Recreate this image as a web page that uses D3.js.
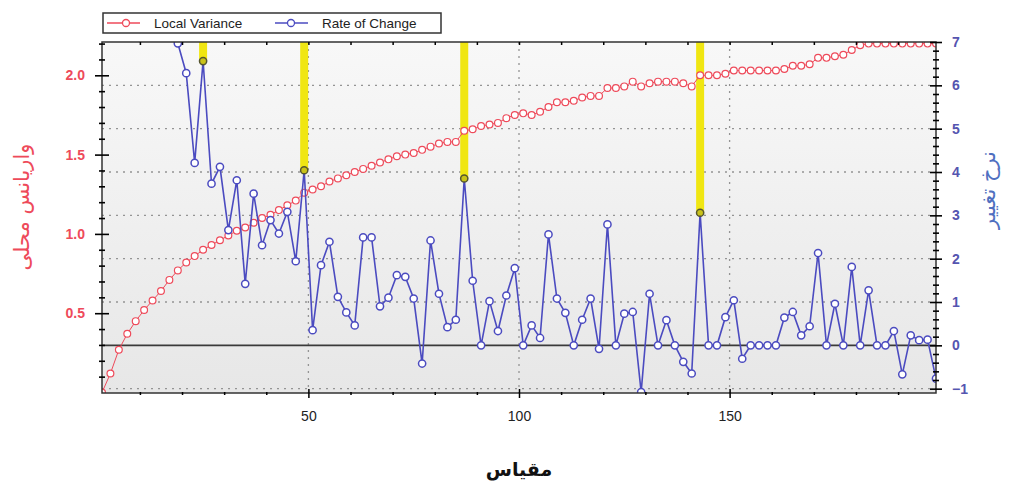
<!DOCTYPE html>
<html>
<head>
<meta charset="utf-8">
<script src="https://cdn.jsdelivr.net/npm/d3@7"></script>
<style>
  body { margin: 0; background: #fff; }
  svg { display: block; }
</style>
</head>
<body>
<div id="chart"></div>
<script>
// scale values (x), every 2 units
const scales = [1,3,5,7,9,11,13,15,17,19,21,23,25,27,29,31,33,35,37,39,
  41,43,45,47,49,51,53,55,57,59,61,63,65,67,69,71,73,75,77,79,
  81,83,85,87,89,91,93,95,97,99,101,103,105,107,109,111,113,115,117,119,
  121,123,125,127,129,131,133,135,137,139,141,143,145,147,149,151,153,155,157,159,
  161,163,165,167,169,171,173,175,177,179,181,183,185,187,189,191,193,195,197,199];

// Local Variance (left axis)
const localVariance = [0.00,0.12,0.27,0.37,0.45,0.52,0.58,0.64,0.71,0.77,
  0.82,0.86,0.90,0.93,0.96,0.99,1.02,1.04,1.07,1.10,
  1.12,1.15,1.18,1.21,1.26,1.28,1.30,1.33,1.35,1.37,
  1.39,1.41,1.43,1.45,1.47,1.49,1.50,1.51,1.53,1.55,
  1.57,1.58,1.58,1.65,1.66,1.68,1.69,1.70,1.73,1.75,
  1.76,1.75,1.77,1.80,1.83,1.83,1.84,1.86,1.87,1.87,
  1.92,1.92,1.93,1.96,1.93,1.95,1.96,1.96,1.96,1.95,
  1.93,2.00,2.00,2.00,2.01,2.03,2.03,2.03,2.03,2.03,
  2.03,2.04,2.06,2.06,2.07,2.11,2.11,2.12,2.13,2.16,
  2.19,2.20,2.20,2.20,2.20,2.20,2.20,2.20,2.20,2.20];

// Rate of Change (right axis), starts at scale 19
const rateScales = scales.slice(9);
const rateOfChange = [6.97,6.28,4.21,6.56,3.73,4.12,2.66,3.81,1.42,3.50,
  2.31,2.89,2.58,3.08,1.94,4.04,0.35,1.85,2.39,1.12,
  0.76,0.46,2.49,2.49,0.90,1.10,1.62,1.58,1.08,-0.42,
  2.42,1.19,0.42,0.59,3.85,1.49,0.00,1.02,0.33,1.15,
  1.78,0.00,0.46,0.17,2.56,1.08,0.75,0.00,0.59,1.08,
  -0.08,2.79,0.00,0.73,0.77,-1.08,1.19,0.00,0.58,0.00,
  -0.38,-0.65,3.06,0.00,0.00,0.65,1.04,-0.31,0.00,0.00,
  0.00,0.00,0.64,0.77,0.23,0.44,2.13,0.00,0.96,0.00,
  1.81,0.00,1.27,0.00,0.00,0.33,-0.67,0.23,0.12,0.13,-0.77];

// highlighted change points
const breaks = [25, 49, 87, 143];

const seriesNames = ["Local Variance", "Rate of Change"];
const xTicks = [50, 100, 150];
const leftTicks = [0.5, 1.0, 1.5, 2.0];
const rightTicks = [-1, 0, 1, 2, 3, 4, 5, 6, 7];

function chart() {
  const width = 1014, height = 484;
  const margin = ({top: 42, right: 78, bottom: 91, left: 102});
  const red = "#ee4a5a", blue = "#4b4bc0";
  const latin = "'Liberation Sans', Arial, sans-serif";
  const persian = "'DejaVu Sans', sans-serif";

  const svg = d3.create("svg")
      .attr("width", width)
      .attr("height", height)
      .attr("viewBox", [0, 0, width, height]);

  const x = d3.scaleLinear().domain([1, 199]).range([margin.left, width - margin.right]);
  const yL = d3.scaleLinear().domain([0, 2.21]).range([height - margin.bottom - 0.5, margin.top]);
  const yR = d3.scaleLinear().domain([-1.1, 7]).range([height - margin.bottom, margin.top]);

  const x0 = margin.left, x1 = width - margin.right;
  const y0 = margin.top, y1 = height - margin.bottom;

  //background + clip
  const defs = svg.append("defs");
  const grad = defs.append("linearGradient").attr("id", "bg").attr("x1", 0).attr("x2", 0).attr("y1", 0).attr("y2", 1);
  grad.append("stop").attr("offset", "0%").attr("stop-color", "#f8f8f8");
  grad.append("stop").attr("offset", "100%").attr("stop-color", "#e7e7e7");
  defs.append("clipPath").attr("id", "clip")
    .append("rect").attr("x", x0).attr("y", y0).attr("width", x1 - x0).attr("height", y1 - y0);

  svg.append("rect")
    .attr("x", x0).attr("y", y0).attr("width", x1 - x0).attr("height", y1 - y0)
    .attr("fill", "url(#bg)");

  //gridlines
  const grid = svg.append("g").attr("stroke", "#949494").attr("stroke-width", 1.3).attr("stroke-dasharray", "2,5");
  grid.selectAll("line.h")
    .data(rightTicks.filter(d => d < 7 && d != 0))
    .join("line")
    .attr("x1", x0).attr("x2", x1)
    .attr("y1", d => yR(d)).attr("y2", d => yR(d));
  grid.selectAll("line.v")
    .data(xTicks)
    .join("line")
    .attr("x1", d => x(d)).attr("x2", d => x(d))
    .attr("y1", y0).attr("y2", y1);

  //yellow highlight bars
  const rateMap = new Map(rateScales.map((s, i) => [s, rateOfChange[i]]));
  svg.append("g").selectAll("rect")
    .data(breaks)
    .join("rect")
    .attr("x", d => x(d) - 4)
    .attr("width", 8)
    .attr("y", y0)
    .attr("height", d => yR(rateMap.get(d)) - y0)
    .attr("fill", "#f0e612");

  //zero line (right axis)
  svg.append("line")
    .attr("x1", x0).attr("x2", x1)
    .attr("y1", yR(0)).attr("y2", yR(0))
    .attr("stroke", "#3a3a3a").attr("stroke-width", 1.6);

  const plot = svg.append("g").attr("clip-path", "url(#clip)");

  //Local Variance
  const redData = scales.map((s, i) => ({s: s, v: localVariance[i]}));
  plot.append("path")
    .datum(redData)
    .attr("fill", "none")
    .attr("stroke", red)
    .attr("stroke-width", 1)
    .attr("d", d3.line().x(d => x(d.s)).y(d => yL(d.v)));
  plot.append("g").selectAll("circle")
    .data(redData)
    .join("circle")
    .attr("cx", d => x(d.s))
    .attr("cy", d => yL(d.v))
    .attr("r", 3.4)
    .attr("fill", "#fff")
    .attr("stroke", red)
    .attr("stroke-width", 1.2);

  //Rate of Change
  const blueData = rateScales.map((s, i) => ({s: s, v: rateOfChange[i]}));
  plot.append("path")
    .datum(blueData)
    .attr("fill", "none")
    .attr("stroke", blue)
    .attr("stroke-width", 1.6)
    .attr("d", d3.line().x(d => x(d.s)).y(d => yR(d.v)));
  plot.append("g").selectAll("circle")
    .data(blueData)
    .join("circle")
    .attr("cx", d => x(d.s))
    .attr("cy", d => yR(d.v))
    .attr("r", 3.6)
    .attr("fill", d => breaks.includes(d.s) ? "#c9c21a" : "#fff")
    .attr("stroke", d => breaks.includes(d.s) ? "#555530" : blue)
    .attr("stroke-width", 1.5);

  //frame
  svg.append("rect")
    .attr("x", x0).attr("y", y0).attr("width", x1 - x0).attr("height", y1 - y0)
    .attr("fill", "none").attr("stroke", "#333").attr("stroke-width", 1.5);

  //axes
  const minorX = d3.range(10, 200, 10).filter(d => d % 50 != 0);
  svg.append("g")
    .attr("transform", `translate(0,${y1})`)
    .call(d3.axisBottom(x).tickValues(minorX).tickSize(3).tickFormat(""))
    .call(g => g.selectAll(".tick line").attr("transform", "translate(0,-1)").attr("stroke-width", 1.5))
    .call(g => g.select(".domain").remove());
  svg.append("g")
    .attr("transform", `translate(0,${y1})`)
    .call(d3.axisBottom(x).tickValues(xTicks).tickSize(6).tickPadding(12))
    .call(g => g.selectAll(".tick line").attr("transform", "translate(0,-4)").attr("y2", 9).attr("stroke-width", 1.5))
    .call(g => g.select(".domain").remove())
    .call(g => g.selectAll("text").attr("font-family", latin).attr("font-size", 14).attr("fill", "#222"));
  svg.append("g")
    .attr("transform", `translate(0,${y0})`)
    .call(d3.axisBottom(x).tickValues(minorX.concat(xTicks)).tickSize(3).tickFormat(""))
    .call(g => g.selectAll(".tick line").attr("stroke-width", 1.5))
    .call(g => g.select(".domain").remove());

  const minorL = d3.range(1, 23).map(d => d / 10).filter(d => Math.round(d * 10) % 5 != 0);
  svg.append("g")
    .attr("transform", `translate(${x0},0)`)
    .call(d3.axisLeft(yL).tickValues(minorL).tickSize(3).tickFormat(""))
    .call(g => g.selectAll(".tick line").attr("x2", 3).attr("x1", -3).attr("stroke-width", 1.6))
    .call(g => g.select(".domain").remove());
  svg.append("g")
    .attr("transform", `translate(${x0},0)`)
    .call(d3.axisLeft(yL).tickValues(leftTicks).tickSize(7).tickPadding(10).tickFormat(d3.format(".1f")))
    .call(g => g.selectAll(".tick line").attr("x2", 7).attr("x1", -7).attr("stroke-width", 1.6))
    .call(g => g.select(".domain").remove())
    .call(g => g.selectAll("text").attr("font-family", latin).attr("font-size", 14).attr("font-weight", "bold").attr("fill", red));

  const minorR = d3.range(-5, 35).map(d => d / 5).filter(d => Math.round(d * 5) % 5 != 0);
  svg.append("g")
    .attr("transform", `translate(${x1},0)`)
    .call(d3.axisRight(yR).tickValues(minorR).tickSize(3).tickFormat(""))
    .call(g => g.selectAll(".tick line").attr("x1", -3).attr("x2", 3).attr("stroke-width", 1.6))
    .call(g => g.select(".domain").remove());
  svg.append("g")
    .attr("transform", `translate(${x1},0)`)
    .call(d3.axisRight(yR).tickValues(rightTicks).tickSize(6).tickPadding(10))
    .call(g => g.selectAll(".tick line").attr("x1", -6).attr("x2", 6).attr("stroke-width", 1.6))
    .call(g => g.select(".domain").remove())
    .call(g => g.selectAll("text").attr("font-family", latin).attr("font-size", 14).attr("font-weight", "bold").attr("fill", "#5555b0"));

  //axis titles
  svg.append("text")
    .attr("x", (x0 + x1) / 2)
    .attr("y", 476)
    .attr("text-anchor", "middle")
    .attr("font-family", persian)
    .attr("font-size", 19)
    .attr("font-weight", "bold")
    .attr("fill", "#111")
    .text("مقیاس");

  svg.append("text")
    .attr("transform", `translate(29,207) rotate(-90)`)
    .attr("text-anchor", "middle")
    .attr("font-family", persian)
    .attr("font-size", 21)
    .attr("fill", red)
    .text("واریانس محلی");

  svg.append("text")
    .attr("transform", `translate(995,190) rotate(-90)`)
    .attr("text-anchor", "middle")
    .attr("font-family", persian)
    .attr("font-size", 21)
    .attr("fill", "#4f6fc0")
    .text("نرخ تغییر");

  //legend
  const legend = svg.append("g");
  legend.append("rect")
    .attr("x", 103).attr("y", 13).attr("width", 338).attr("height", 20)
    .attr("fill", "#fff").attr("stroke", "#333").attr("stroke-width", 1.5);
  const items = [
    {name: seriesNames[0], color: red, lx: 107, cx: 126, tx: 154},
    {name: seriesNames[1], color: blue, lx: 275, cx: 291, tx: 322}
  ];
  const li = legend.selectAll("g.item").data(items).join("g");
  li.append("line")
    .attr("x1", d => d.lx).attr("x2", d => d.lx + 33)
    .attr("y1", 23).attr("y2", 23)
    .attr("stroke", d => d.color).attr("stroke-width", 1.4);
  li.append("circle")
    .attr("cx", d => d.cx).attr("cy", 23).attr("r", 3.5)
    .attr("fill", "#fff").attr("stroke", d => d.color).attr("stroke-width", 1.3);
  li.append("text")
    .attr("x", d => d.tx).attr("y", 28)
    .attr("font-family", latin).attr("font-size", 13.5)
    .attr("fill", "#222")
    .text(d => d.name);

  return svg.node();
}

document.getElementById("chart").appendChild(chart());
</script>
</body>
</html>
